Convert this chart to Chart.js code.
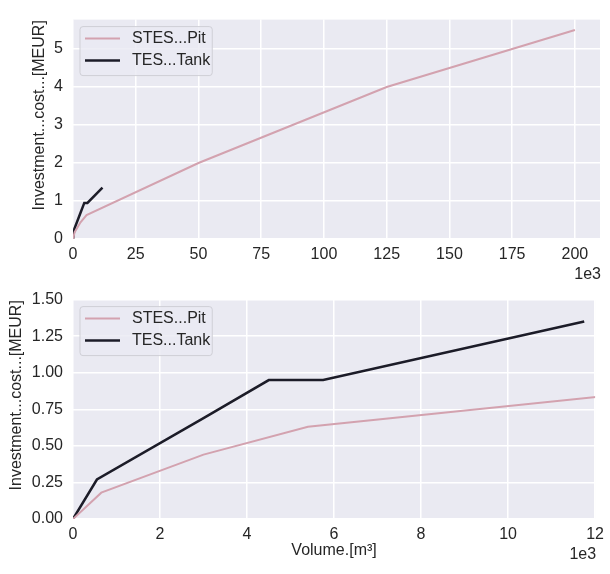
<!DOCTYPE html>
<html>
<head>
<meta charset="utf-8">
<script src="https://cdn.jsdelivr.net/npm/chart.js@4"></script>
<style>
    body { margin: 0; background: #fff; }
    .wrap { position: absolute; left: 0; width: 610px; }
</style>
</head>
<body>
<div class="wrap" style="top:0;height:280px"><canvas id="chart-full"></canvas></div>
<div class="wrap" style="top:280px;height:294px"><canvas id="chart-zoom"></canvas></div>
<script>
const font_family = '"Liberation Sans", Arial, sans-serif'
const text_color = '#262626'
const face_color = '#eaeaf2'

const series_labels = ['STES...Pit', 'TES...Tank']
const series_colors = ['#d3a2af', '#1c1c28']
const series_widths = [2, 2.5]

// volume [m3] -> investment cost [MEUR]
const pit_volume = [0, 650, 3000, 5400, 50000, 125000, 200000]
const pit_cost = [0, 0.18, 0.44, 0.63, 2.0, 4.0, 5.5]
const tank_volume = [0, 550, 3000, 4500, 5750, 11750]
const tank_cost = [0, 0.27, 0.69, 0.95, 0.95, 1.35]

// tick positions for the full range plot and the small volume plot
const full_x_ticks = [0, 25000, 50000, 75000, 100000, 125000, 150000, 175000, 200000]
const full_y_ticks = [0, 1, 2, 3, 4, 5]
const zoom_x_ticks = [0, 2000, 4000, 6000, 8000, 10000, 12000]
const zoom_y_ticks = [0, 0.25, 0.5, 0.75, 1.0, 1.25, 1.5]

const y_title = 'Investment...cost...[MEUR]'
const x_title = 'Volume.[m\u00b3]'
const x_offset_text = '1e3'

function points(xs, ys) {
    return xs.map((x, i) => ({ x: x, y: ys[i] }))
}

function build_datasets() {
    const all = [points(pit_volume, pit_cost), points(tank_volume, tank_cost)]
    return all.map((d, i) => ({
        label: series_labels[i],
        data: d,
        borderColor: series_colors[i],
        backgroundColor: series_colors[i],
        borderWidth: series_widths[i],
        pointRadius: 0,
        tension: 0
    }))
}

// grey axes face, drawn under the grid
const face_plugin = {
    id: 'face',
    beforeDraw(chart) {
        const a = chart.chartArea
        chart.ctx.save()
        chart.ctx.fillStyle = face_color
        chart.ctx.fillRect(a.left, a.top, a.right - a.left, a.bottom - a.top)
        chart.ctx.restore()
    }
}

// legend box in the upper left corner, the 1e3 offset text and the y title
const legend_plugin = {
    id: 'legend_box',
    afterDatasetsDraw(chart, args, opts) {
        const ctx = chart.ctx
        const a = chart.chartArea
        const sets = chart.data.datasets
        ctx.save()
        ctx.font = '16px ' + font_family
        const text_w = Math.max(...sets.map(d => ctx.measureText(d.label).width))
        const x0 = a.left + 7
        const y0 = a.top + 7
        ctx.beginPath()
        ctx.roundRect(x0, y0, 52 + text_w + 2, 49, 3)
        ctx.fillStyle = 'rgba(234, 234, 242, 0.8)'
        ctx.fill()
        ctx.strokeStyle = '#cfcfd6'
        ctx.lineWidth = 1
        ctx.stroke()
        sets.forEach((d, i) => {
            const y = y0 + 12 + i * 22
            ctx.strokeStyle = d.borderColor
            ctx.lineWidth = d.borderWidth
            ctx.beginPath()
            ctx.moveTo(x0 + 5, y)
            ctx.lineTo(x0 + 40, y)
            ctx.stroke()
            ctx.fillStyle = text_color
            ctx.textBaseline = 'middle'
            ctx.fillText(d.label, x0 + 52, y)
        })
        ctx.textAlign = 'right'
        ctx.fillText(x_offset_text, a.right + 1, chart.scales.x.top + 36)

        ctx.translate(opts.title_x, (a.top + a.bottom) / 2 - 14)
        ctx.rotate(-Math.PI / 2)
        ctx.textAlign = 'center'
        ctx.fillText(y_title, 0, 0)
        ctx.restore()
    }
}

function make_chart(id, cfg) {
    const tick_font = { size: 16, family: font_family }
    return new Chart(id, {
        type: 'line',
        data: { datasets: build_datasets() },
        plugins: [face_plugin, legend_plugin],
        options: {
            responsive: true,
            maintainAspectRatio: false,
            animation: false,
            layout: { padding: { left: 0, right: 10, top: 7, bottom: 0 } },
            plugins: {
                legend: { display: false },
                tooltip: { enabled: false },
                legend_box: { title_x: cfg.y_title_x }
            },
            scales: {
                x: {
                    type: 'linear',
                    min: 0,
                    max: cfg.x_max,
                    grid: { color: '#ffffff', lineWidth: 1.5, drawTicks: false },
                    border: { display: false },
                    afterBuildTicks: s => { s.ticks = cfg.x_ticks.map(v => ({ value: v })) },
                    ticks: {
                        autoSkip: false,
                        maxRotation: 0,
                        padding: 6,
                        color: text_color,
                        font: tick_font,
                        callback: v => String(v / 1000)
                    },
                    title: {
                        display: cfg.show_x_title,
                        text: x_title,
                        color: text_color,
                        font: tick_font,
                        padding: { top: 0, bottom: 14 }
                    },
                    afterFit: s => { s.height = cfg.x_height }
                },
                y: {
                    type: 'linear',
                    min: 0,
                    max: cfg.y_max,
                    grid: { color: '#ffffff', lineWidth: 1.5, drawTicks: false },
                    border: { display: false },
                    afterBuildTicks: s => { s.ticks = cfg.y_ticks.map(v => ({ value: v })) },
                    ticks: {
                        autoSkip: false,
                        padding: 10,
                        color: text_color,
                        font: tick_font,
                        callback: cfg.y_format
                    },
                    afterFit: s => { s.width = 73 }
                }
            }
        }
    })
}

make_chart('chart-full', {
    x_max: 210000, x_ticks: full_x_ticks,
    y_max: 5.775, y_ticks: full_y_ticks,
    y_format: v => String(v),
    y_title_x: 40,
    show_x_title: false,
    x_height: 41
})

make_chart('chart-zoom', {
    x_max: 12000, x_ticks: zoom_x_ticks,
    y_max: 1.5, y_ticks: zoom_y_ticks,
    y_format: v => v.toFixed(2),
    y_title_x: 17,
    show_x_title: true,
    x_height: 55
})
</script>
</body>
</html>
